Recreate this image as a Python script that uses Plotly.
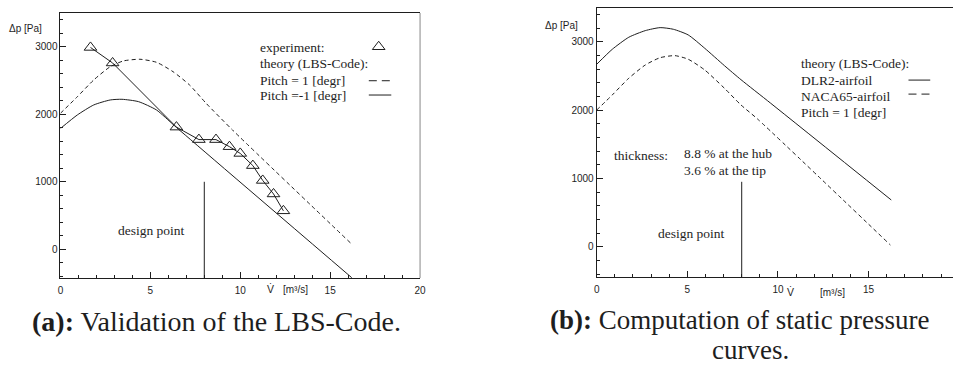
import plotly.graph_objects as go

# ---------------- data ----------------
# (a) Validation of the LBS-Code
exp_v = [1.67, 2.9, 6.45, 7.7, 8.65, 9.4, 10.0, 10.7, 11.25, 11.85, 12.4]
exp_p = [2990, 2760, 1810, 1625, 1625, 1520, 1420, 1240, 1020, 820, 570]

a_pitch_pos_v = [0, 0.94, 1.85, 2.77, 3.5, 4.42, 5.34, 6.26, 7.18, 8.1, 9.57, 16.25]
a_pitch_pos_p = [2015, 2260, 2508, 2705, 2790, 2815, 2770, 2631, 2434, 2163, 1767, 64]

a_pitch_neg_v = [0, 0.94, 1.85, 2.77, 3.42, 4.34, 5.34, 6.26, 6.45, 16.2]
a_pitch_neg_p = [1790, 1990, 2138, 2212, 2222, 2187, 2064, 1850, 1805, -420]

# (b) Computation of static pressure curves
b_dlr2_v = [0, 0.86, 1.77, 2.68, 3.5, 4.23, 5.05, 5.96, 7.05, 7.96, 9.6, 16.25]
b_dlr2_p = [2670, 2890, 3066, 3163, 3207, 3183, 3100, 2905, 2650, 2445, 2100, 684]

b_naca_v = [0, 0.86, 1.77, 2.68, 3.5, 4.32, 5.05, 5.96, 7.05, 7.96, 8.87, 16.2]
b_naca_p = [2000, 2221, 2466, 2660, 2767, 2797, 2744, 2587, 2319, 2075, 1870, 25]

design_v = 8.0
a_design_top = 1000
b_design_top = 950

a_xticks = [0, 5, 10, 15, 20]
a_yticks = [0, 1000, 2000, 3000]

# ---------------- styling ----------------
INK = "#1e1e1e"
SERIF = "Liberation Serif"
SANS = "Liberation Sans"
W, H = 959, 365

fig = go.Figure()

def px_x(p):
    return p / W

def px_y(p):
    return 1 - p / H

# traces panel (a)
fig.add_trace(go.Scatter(x=a_pitch_pos_v, y=a_pitch_pos_p, mode="lines",
                         line=dict(color=INK, width=1, dash="4px,3px", shape="spline", smoothing=0.6),
                         xaxis="x", yaxis="y", showlegend=False))
fig.add_trace(go.Scatter(x=a_pitch_neg_v, y=a_pitch_neg_p, mode="lines",
                         line=dict(color=INK, width=1, shape="spline", smoothing=0.6),
                         xaxis="x", yaxis="y", showlegend=False))
fig.add_trace(go.Scatter(x=exp_v, y=exp_p, mode="lines+markers",
                         line=dict(color=INK, width=1),
                         marker=dict(symbol="triangle-up-open", size=11, color=INK, line=dict(width=1)),
                         xaxis="x", yaxis="y", showlegend=False))
fig.add_trace(go.Scatter(x=[design_v, design_v], y=[-1000, a_design_top], mode="lines",
                         line=dict(color=INK, width=1), xaxis="x", yaxis="y", showlegend=False))
# legend key marker (a)
fig.add_trace(go.Scatter(x=[17.7], y=[3000], mode="markers",
                         marker=dict(symbol="triangle-up-open", size=11, color=INK, line=dict(width=1)),
                         xaxis="x", yaxis="y", showlegend=False))

# traces panel (b)
fig.add_trace(go.Scatter(x=b_dlr2_v, y=b_dlr2_p, mode="lines",
                         line=dict(color=INK, width=1, shape="spline", smoothing=0.6),
                         xaxis="x2", yaxis="y2", showlegend=False))
fig.add_trace(go.Scatter(x=b_naca_v, y=b_naca_p, mode="lines",
                         line=dict(color=INK, width=1, dash="4px,3px", shape="spline", smoothing=0.6),
                         xaxis="x2", yaxis="y2", showlegend=False))
fig.add_trace(go.Scatter(x=[design_v, design_v], y=[-1000, b_design_top], mode="lines",
                         line=dict(color=INK, width=1), xaxis="x2", yaxis="y2", showlegend=False))

shapes = [
    # legend samples (a)
    dict(type="line", xref="x", yref="y", x0=17.15, x1=18.4, y0=2497, y1=2497,
         line=dict(color=INK, width=1, dash="8px,5px")),
    dict(type="line", xref="x", yref="y", x0=17.15, x1=18.4, y0=2285, y1=2285,
         line=dict(color=INK, width=1)),
    # legend samples (b)
    dict(type="line", xref="x2", yref="y2", x0=17.2, x1=18.4, y0=2439, y1=2439,
         line=dict(color=INK, width=1)),
    dict(type="line", xref="x2", yref="y2", x0=17.2, x1=18.4, y0=2234, y1=2234,
         line=dict(color=INK, width=1, dash="8px,5px")),
    # faint right border of panel (a)
    dict(type="line", xref="paper", yref="paper", x0=px_x(421), x1=px_x(421),
         y0=px_y(278), y1=px_y(13), line=dict(color="#888888", width=1)),
]

def note(text, x, y, xref, yref, size=13.5, xanchor="left", font=SERIF, yanchor="middle"):
    return dict(text=text, x=x, y=y, xref=xref, yref=yref, showarrow=False,
                xanchor=xanchor, yanchor=yanchor,
                font=dict(family=font, size=size, color=INK))

annotations = [
    note("experiment:", 11.0, 2990, "x", "y"),
    note("theory (LBS-Code):", 11.0, 2753, "x", "y"),
    note("Pitch = 1 [degr]", 11.0, 2506, "x", "y"),
    note("Pitch =-1 [degr]", 11.0, 2275, "x", "y"),
    note("design point", 5.06, 276, "x", "y", xanchor="center"),

    note("theory (LBS-Code):", 11.15, 2683, "x2", "y2"),
    note("DLR2-airfoil", 11.15, 2439, "x2", "y2"),
    note("NACA65-airfoil", 11.15, 2195, "x2", "y2"),
    note("Pitch = 1 [degr]", 11.15, 1961, "x2", "y2"),
    note("thickness:", 0.86, 1341, "x2", "y2"),
    note("8.8 % at the hub", 4.73, 1366, "x2", "y2"),
    note("3.6 % at the tip", 4.73, 1112, "x2", "y2"),
    note("design point", 5.21, 195, "x2", "y2", xanchor="center"),

    # axis titles
    note("Δp [Pa]", px_x(23), px_y(28), "paper", "paper", size=10, xanchor="center", font=SANS),
    note("V̇", px_x(270), px_y(289), "paper", "paper", size=10.5, xanchor="center", font=SANS),
    note("[m³/s]", px_x(295), px_y(289), "paper", "paper", size=10, xanchor="center", font=SANS),
    note("Δp [Pa]", px_x(564), px_y(25), "paper", "paper", size=10, xanchor="center", font=SANS),
    note("V̇", px_x(795), px_y(292), "paper", "paper", size=10.5, xanchor="center", font=SANS),
    note("[m³/s]", px_x(837), px_y(292), "paper", "paper", size=10, xanchor="center", font=SANS),

    # captions
    note("<b>(a):</b> Validation of the LBS-Code.", px_x(216), px_y(321), "paper", "paper",
         size=28, xanchor="center"),
    note("<b>(b):</b> Computation of static pressure", px_x(550), px_y(320), "paper", "paper",
         size=27, xanchor="left"),
    note("curves.", px_x(755), px_y(350), "paper", "paper", size=27, xanchor="center"),
]

def xaxis_cfg(domain, rng, anchor):
    return dict(domain=domain, range=rng, anchor=anchor, showline=True, mirror=True,
                linecolor=INK, linewidth=1, ticks="inside", ticklen=6, tickwidth=1,
                tickcolor=INK, tickmode="array", tickvals=a_xticks,
                ticktext=[str(t) for t in a_xticks], ticklabelstandoff=3,
                minor=dict(dtick=1, tick0=0, ticks="inside", ticklen=3, tickcolor=INK),
                showgrid=False, zeroline=False,
                tickfont=dict(family=SANS, size=10, color=INK), fixedrange=True)

def yaxis_cfg(domain, rng, anchor):
    return dict(domain=domain, range=rng, anchor=anchor, showline=True, mirror=False,
                linecolor=INK, linewidth=1, ticks="inside", ticklen=6, tickwidth=1,
                tickcolor=INK, tickmode="array", tickvals=a_yticks,
                ticktext=[str(t) for t in a_yticks],
                minor=dict(dtick=200, tick0=0, ticks="inside", ticklen=3, tickcolor=INK),
                showgrid=False, zeroline=False,
                tickfont=dict(family=SANS, size=10, color=INK), fixedrange=True)

fig.update_layout(
    width=W, height=H,
    margin=dict(l=0, r=0, t=0, b=0),
    paper_bgcolor="white", plot_bgcolor="rgba(0,0,0,0)",
    xaxis=xaxis_cfg([px_x(58), px_x(421)], [0, 20], "y"),
    yaxis=yaxis_cfg([px_y(278), px_y(13)], [-425, 3500], "x"),
    xaxis2=xaxis_cfg([px_x(599.3), 1.0], [0, (959 - 599.3) / 18.3], "y2"),
    yaxis2=yaxis_cfg([px_y(277.3), px_y(8.3)], [-448, 3490], "x2"),
    shapes=shapes,
    annotations=annotations,
    showlegend=False,
)

fig.write_html("out.html")
